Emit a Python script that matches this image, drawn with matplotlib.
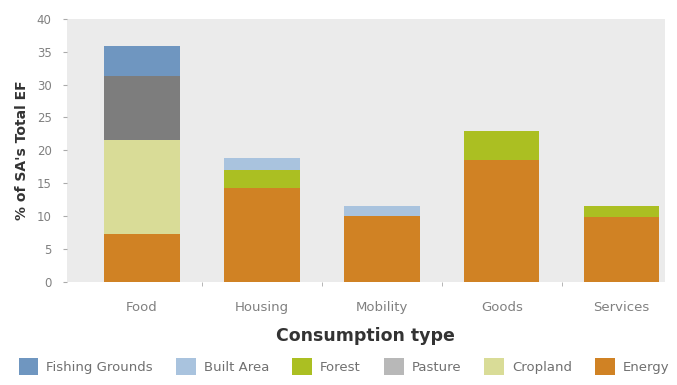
import numpy as np
import matplotlib
matplotlib.use('Agg')
import matplotlib.pyplot as plt
from matplotlib.patches import Patch

# --- DATA --------------------------------------------------------------------
categories = ["Food", "Housing", "Mobility", "Goods", "Services"]
energy = [7.3, 14.3, 10.0, 18.6, 9.9]
cropland = [14.2, 0, 0, 0, 0]
pasture = [9.8, 0, 0, 0, 0]
forest = [0, 2.7, 0, 4.4, 1.6]
built_area = [0, 1.9, 1.6, 0, 0]
fishing = [4.6, 0, 0, 0, 0]

yticks = [0, 5, 10, 15, 20, 25, 30, 35, 40]

# stacking order bottom -> top
layers = [
    ("Energy", energy, "#d08224"),
    ("Cropland", cropland, "#d9dc97"),
    ("Pasture", pasture, "#7d7d7d"),
    ("Forest", forest, "#abbf22"),
    ("Built Area", built_area, "#a9c3de"),
    ("Fishing Grounds", fishing, "#6f96c0"),
]
legend_order = ["Fishing Grounds", "Built Area", "Forest", "Pasture", "Cropland", "Energy"]
legend_colors = {"Pasture": "#b8b8b8"}

plt.rcParams['font.family'] = ['DejaVu Sans']

fig = plt.figure(figsize=(6.77, 3.85), dpi=100)
ax = fig.add_axes([0.099, 0.2675, 0.883, 0.684])
ax.set_facecolor("#ebebeb")

x = np.arange(len(categories))
bottom = np.zeros(len(categories))
for name, vals, col in layers:
    vals = np.array(vals, dtype=float)
    ax.bar(x, vals, bottom=bottom, width=0.63, color=col, linewidth=0)
    bottom += vals

ax.set_xlim(-0.625, 4.36)
ax.set_ylim(0, 40)
ax.set_yticks(yticks)
ax.set_xticks(x)
ax.set_xticklabels(categories, fontsize=9.5, color="#808080")
ax.tick_params(axis='x', length=0, pad=14)
ax.set_xticks(x[:-1] + 0.5, minor=True)
ax.tick_params(axis='x', which='minor', length=3, color="#aaaaaa")
ax.tick_params(axis='y', labelsize=8.5, labelcolor="#808080", color="#aaaaaa", length=3, pad=8)

for s in ax.spines.values():
    s.set_visible(False)

ax.set_ylabel("% of SA's Total EF", fontsize=10, fontweight='bold', color="#333333", labelpad=6)
ax.set_xlabel("Consumption type", fontsize=12.5, fontweight='bold', color="#333333", labelpad=9)

colmap = {n: c for n, _, c in layers}
handles = [Patch(facecolor=legend_colors.get(n, colmap[n]), edgecolor='none', label=n)
           for n in legend_order]
fig.legend(handles=handles, loc='lower center', bbox_to_anchor=(0.508, -0.005), ncol=6,
           frameon=False, fontsize=9.5, handlelength=1.5, handleheight=1.6,
           columnspacing=1.75, handletextpad=0.6, labelcolor="#707070")

fig.savefig("out.png", dpi=100)
